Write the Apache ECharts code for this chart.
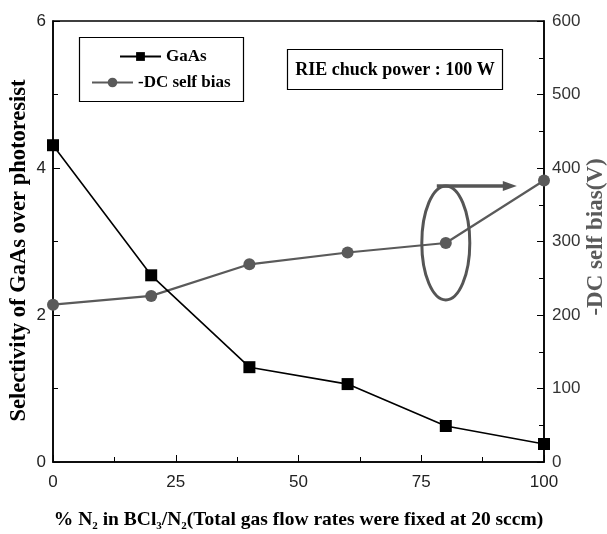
<!DOCTYPE html>
<html>
<head>
<meta charset="utf-8">
<script src="https://cdn.jsdelivr.net/npm/echarts@6/dist/echarts.min.js"></script>
<style>html,body{margin:0;padding:0;background:#fff}#c{width:607px;height:534px}</style>
</head>
<body>
<div id="c"></div>
<script>
const n2Percent = [0, 20, 40, 60, 80, 100];
const gaasSelectivity = [4.31, 2.54, 1.29, 1.06, 0.49, 0.245];
const dcSelfBias = [214, 226, 269, 285, 298, 383];
const xTicks = [0, 25, 50, 75, 100];
const leftTicks = [0, 2, 4, 6];
const rightTicks = [0, 100, 200, 300, 400, 500, 600];
const highlightIndex = 4;

const serif = '"Liberation Serif", "Times New Roman", serif';
const sans = '"Liberation Sans", Arial, sans-serif';
const gray = '#5a5a5a';

const chart = echarts.init(document.getElementById('c'), null, {renderer: 'canvas'});

const axisCommon = {
  axisLine: {show: true, lineStyle: {color: '#000', width: 1.5}},
  axisTick: {show: true, inside: true, length: 7, lineStyle: {color: '#000', width: 1}},
  minorTick: {show: true, splitNumber: 2, length: 5, lineStyle: {color: '#000', width: 1}},
  splitLine: {show: false},
  minorSplitLine: {show: false},
  nameMoveOverlap: false
};

chart.setOption({
  backgroundColor: '#fff',
  animation: false,
  grid: {left: 53, right: 63, top: 21, bottom: 72, containLabel: false, outerBoundsMode: 'none',
         show: true, borderColor: '#000', borderWidth: 1.5, backgroundColor: 'transparent'},
  legend: [
    {data: ['GaAs'], left: 119, top: 48, padding: 0, itemWidth: 41, itemHeight: 11, itemGap: 4,
     textStyle: {fontFamily: serif, fontWeight: 'bold', fontSize: 17, color: '#000'}},
    {data: ['-DC self bias'], left: 91, top: 74, padding: 0, itemWidth: 41, itemHeight: 12, itemGap: 4,
     textStyle: {fontFamily: serif, fontWeight: 'bold', fontSize: 17, color: '#000'}}
  ],
  xAxis: Object.assign({
    type: 'value', min: xTicks[0], max: xTicks[xTicks.length - 1], interval: 25,
    name: '% N{sub|2} in BCl{sub|3}/N{sub|2}(Total gas flow rates were fixed at 20 sccm)',
    nameLocation: 'middle', nameGap: 46,
    nameTextStyle: {fontFamily: serif, fontWeight: 'bold', fontSize: 19.5, color: '#000',
      rich: {sub: {fontFamily: serif, fontWeight: 'bold', fontSize: 11, color: '#000', padding: [13, 0, 0, 0]}}},
    axisLabel: {fontFamily: sans, fontSize: 17, color: '#222', margin: 12}
  }, axisCommon),
  yAxis: [
    Object.assign({
      type: 'value', min: leftTicks[0], max: leftTicks[leftTicks.length - 1], interval: 2,
      name: 'Selectivity of GaAs over photoresist', nameLocation: 'middle', nameGap: 22, nameRotate: 90,
      nameTextStyle: {fontFamily: serif, fontWeight: 'bold', fontSize: 22.5, color: '#000', padding: [0, 18, 0, 0]},
      axisLabel: {fontFamily: sans, fontSize: 17, color: '#222', margin: 7}
    }, axisCommon),
    Object.assign({
      type: 'value', position: 'right', min: rightTicks[0], max: rightTicks[rightTicks.length - 1], interval: 100,
      name: '-DC self bias(V)', nameLocation: 'middle', nameGap: 41, nameRotate: 90,
      nameTextStyle: {fontFamily: serif, fontWeight: 'bold', fontSize: 23, color: gray, padding: [0, 0, 0, 9]},
      axisLabel: {fontFamily: sans, fontSize: 17, color: '#333', margin: 8}
    }, axisCommon)
  ],
  series: [
    {name: 'GaAs', type: 'line', yAxisIndex: 0, data: n2Percent.map((x, i) => [x, gaasSelectivity[i]]),
     symbol: 'rect', symbolSize: 12, lineStyle: {color: '#000', width: 1.6}, itemStyle: {color: '#000'}, z: 3},
    {name: '-DC self bias', type: 'line', yAxisIndex: 1, data: n2Percent.map((x, i) => [x, dcSelfBias[i]]),
     symbol: 'circle', symbolSize: 12, lineStyle: {color: gray, width: 2.2}, itemStyle: {color: gray}, z: 2}
  ]
});

const p = chart.convertToPixel({xAxisIndex: 0, yAxisIndex: 1}, [n2Percent[highlightIndex], dcSelfBias[highlightIndex]]);
const cx = p[0], cy = p[1], rx = 24, ry = 57;
const ay = cy - ry;
const tipX = cx + 71;

chart.setOption({
  graphic: [
    {type: 'rect', shape: {x: 79.5, y: 37.5, width: 164, height: 64}, style: {fill: 'transparent', stroke: '#000', lineWidth: 1.2}, z: 10},
    {type: 'rect', shape: {x: 287.5, y: 49.5, width: 215, height: 40}, style: {fill: '#fff', stroke: '#000', lineWidth: 1.2}, z: 10},
    {type: 'text', x: 395, y: 70, style: {text: 'RIE chuck power : 100 W', fontFamily: serif, fontWeight: 'bold', fontSize: 18, fill: '#000', align: 'center', verticalAlign: 'middle'}, z: 11},
    {type: 'ellipse', shape: {cx: cx, cy: cy, rx: rx, ry: ry}, style: {fill: 'transparent', stroke: '#555', lineWidth: 3}, z: 10},
    {type: 'line', shape: {x1: cx - 9, y1: ay, x2: tipX - 11, y2: ay}, style: {stroke: '#555', lineWidth: 3.5}, z: 10},
    {type: 'polygon', shape: {points: [[tipX, ay], [tipX - 14, ay - 5], [tipX - 14, ay + 5]]}, style: {fill: '#555'}, z: 10}
  ]
});
</script>
</body>
</html>
